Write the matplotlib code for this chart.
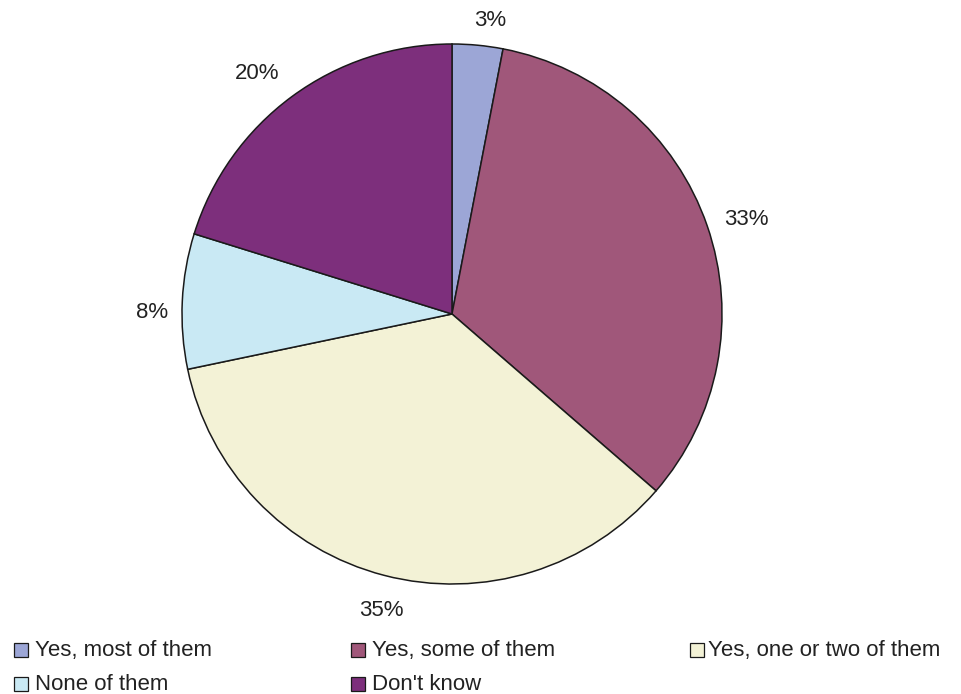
import matplotlib
matplotlib.use("Agg")
import matplotlib.pyplot as plt
from matplotlib.patches import Rectangle
from matplotlib.transforms import offset_copy

plt.rcParams['font.family'] = ['Liberation Sans', 'DejaVu Sans']

categories = ["Yes, most of them", "Yes, some of them", "Yes, one or two of them",
              "None of them", "Don't know"]
values = [3, 33, 35, 8, 20]
colors = ["#9CA6D6", "#A0577A", "#F3F2D6", "#C9E9F4", "#7D2F7C"]

W, H = 962, 694
fig = plt.figure(figsize=(W / 100, H / 100), dpi=100)

# pie occupies a square region centred at (452, 314) px with radius 270 px
cx, cy, r = 452, 314, 270
ax = fig.add_axes([(cx - r) / W, (H - cy - r) / H, 2 * r / W, 2 * r / H])

wedges, texts = ax.pie(values, colors=colors, startangle=90, counterclock=False,
                       radius=1.0, labels=[f"{v}%" for v in values],
                       labeldistance=1.12,
                       wedgeprops=dict(edgecolor="#1a1a1a", linewidth=1.1))
ax.set_xlim(-1, 1)
ax.set_ylim(-1, 1)
ax.set_aspect('equal')
ax.axis('off')

# small nudges (in pixels) for the percentage labels
label_nudge = [(9, -8), (9, -4), (5, -4), (2, -13), (-16, -3)]
for t, (dx, dy) in zip(texts, label_nudge):
    t.set_fontsize(16)
    t.set_color("#222222")
    t.set_ha("center")
    t.set_va("center")
    t.set_clip_on(False)
    t.set_transform(offset_copy(ax.transData, fig=fig, x=dx, y=dy, units='dots'))

# legend laid out in three columns, two rows
box_x = [14, 351, 690]
text_x = [35, 372, 708]
baseline = [656, 690]
box = 14
for i, (name, col) in enumerate(zip(categories, colors)):
    c, row = i % 3, i // 3
    yb = baseline[row]
    fig.patches.append(Rectangle((box_x[c] / W, (H - (yb + 1)) / H), box / W, box / H,
                                 facecolor=col, edgecolor="#1a1a1a", linewidth=0.9,
                                 transform=fig.transFigure, figure=fig))
    fig.text(text_x[c] / W, (H - yb) / H, name, fontsize=16, color="#222222",
             ha="left", va="baseline")

fig.savefig("out.png", dpi=100, facecolor="white")
